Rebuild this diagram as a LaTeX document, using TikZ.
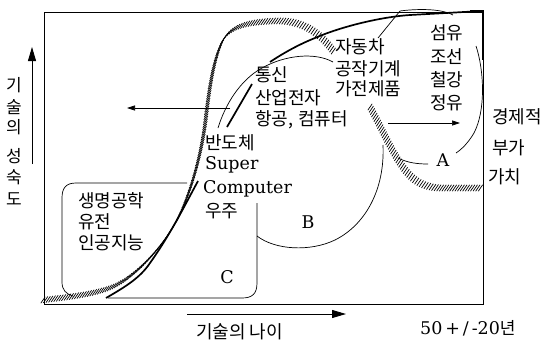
\documentclass[tikz,border=0pt]{standalone}
\usepackage{fontspec}
\setmainfont{DejaVu Serif}
\newfontfamily\kr{Noto Sans CJK KR}
\usetikzlibrary{decorations.markings,arrows.meta}
\begin{document}
\begin{tikzpicture}[x=1pt,y=-1pt,
  kt/.style={font=\kr\fontsize{18}{21}\selectfont, inner sep=0pt, anchor=base west},
  kc/.style={font=\kr\fontsize{17}{20}\selectfont, inner sep=0pt, anchor=base},
  lt/.style={font=\fontsize{17.5}{20}\selectfont, inner sep=0pt, anchor=base west},
  thinl/.style={line width=0.7pt},
  thickl/.style={line width=1.7pt},
  hatch/.style={postaction={decorate}, decoration={markings,
     mark=between positions 0 and 1 step 2.6pt with {\pgftransformresetnontranslations
       \draw[line width=0.7pt] (-2.2pt,-3.2pt) -- (2.2pt,3.2pt);}}},
  axarrow/.style={line width=0.9pt, -{Triangle[length=14pt,width=8pt]}},
  smarrow/.style={line width=0.7pt, -{Triangle[length=8pt,width=5pt]}},
]
\useasboundingbox (0,0) rectangle (546,343);
% frame
\draw[line width=0.9pt] (44,12) -- (483,12) -- (483,304) -- (44,304) -- cycle;
\draw[line width=1.4pt] (470,11) -- (483,11) -- (483,60);

% axes arrows
\coordinate (ya0) at (32,164); \coordinate (ya1) at (32,47);
\draw[axarrow] (ya0) -- (ya1);
\coordinate (xa0) at (187,314); \coordinate (xa1) at (346,314);
\draw[axarrow] (xa0) -- (xa1);

% hatched band (left/top part)
\path[hatch] (43,300) .. controls (70,297) and (95,294) .. (112,287)
   .. controls (135,277) and (160,250) .. (176,222)
   .. controls (190,195) and (200,160) .. (205,125)
   .. controls (209,90) and (213,60) .. (223,40)
   .. controls (232,25) and (250,22) .. (275,21)
   .. controls (300,20) and (318,30) .. (334,52);
% hatched band (right part)
\path[hatch] (370,107) .. controls (380,125) and (390,148) .. (400,163)
   .. controls (410,178) and (420,187) .. (440,188) -- (481,188);

% thick S-curve pieces
\draw[thickl] (106,298) .. controls (125,287) and (140,278) .. (150,263)
   .. controls (170,235) and (185,205) .. (198,181);
\draw[thickl] (227,127) -- (252,84);
\draw[thickl] (270,62) .. controls (285,52) and (300,44) .. (315,38)
   .. controls (340,27) and (380,17) .. (410,15) -- (482,11);

% thin arc (B top-left)
\draw[thinl] (218,128) .. controls (225,105) and (240,80) .. (262,68)
   .. controls (285,55) and (315,52) .. (333,62);
% region A boundary
\draw[thinl] (378,38) -- (400,11) .. controls (415,9) and (440,8) .. (453,15);
\draw[thinl] (476,46) .. controls (484,70) and (486,110) .. (474,133)
   .. controls (468,143) and (462,149) .. (456,153);
\draw[thinl] (398,158) .. controls (408,163) and (418,164) .. (428,164);
% region B
\draw[thinl] (257,236) .. controls (275,250) and (310,252) .. (335,240)
   .. controls (365,225) and (385,190) .. (383,145);
% region C
\draw[thinl] (187,183) -- (76,183) .. controls (66,183) and (62,188) .. (62,198)
   -- (62,282) .. controls (62,290) and (66,294) .. (73,296);
\draw[thinl] (257,203) -- (257,283) .. controls (257,294) and (252,298) .. (242,298) -- (108,298);

% inner arrows
\coordinate (la0) at (230,108); \coordinate (la1) at (127,108);
\draw[smarrow] (la0) -- (la1);
\coordinate (ra0) at (388,123); \coordinate (ra1) at (460,123);
\draw[smarrow] (ra0) -- (ra1);

% vertical axis label
\node[kc] (v1) at (14,91) {기};
\node[kc] (v2) at (14,113) {술};
\node[kc] (v3) at (14,133) {의};
\node[kc] (v4) at (14,162) {성};
\node[kc] (v5) at (14,183) {숙};
\node[kc] (v6) at (14,205) {도};

% texts
\node[kt] (t1) at (255,81) {통신};
\node[kt] (t2) at (255,104) {산업전자};
\node[kt] (t3) at (255,125) {항공,\hspace{5pt}컴퓨터};
\node[kt] (t4) at (335,53) {자동차};
\node[kt] (t5) at (335,75) {공작기계};
\node[kt] (t6) at (335,95) {가전제품};
\node[kt] (t7) at (430,39) {섬유};
\node[kt] (t8) at (430,63) {조선};
\node[kt] (t9) at (430,86) {철강};
\node[kt] (t10) at (430,109) {정유};
\node[kt] (t11) at (492,123) {경제적};
\node[kt] (t12) at (492,154) {부가};
\node[kt] (t13) at (488,183) {가치};
\node[kt] (t14) at (205,149) {반도체};
\node[lt] (t15) at (205,169) {Super};
\node[lt] (t16) at (203,193) {Computer};
\node[kt] (t17) at (205,217) {우주};
\node[kt] (t18) at (78,207) {생명공학};
\node[kt] (t19) at (78,228) {유전};
\node[kt] (t20) at (78,249) {인공지능};
\node[lt, anchor=base] (lc) at (227,283) {C};
\node[lt, anchor=base] (lb) at (308,228) {B};
\node[lt, anchor=base] (la) at (443,166) {A};
\node[kt] (xl) at (196,338) {기술의 나이};
\node[lt] (yr) at (420,334) {50\,+\,/\,-20{\kr\fontsize{17}{21}\selectfont 년}};
\end{tikzpicture}
\end{document}
